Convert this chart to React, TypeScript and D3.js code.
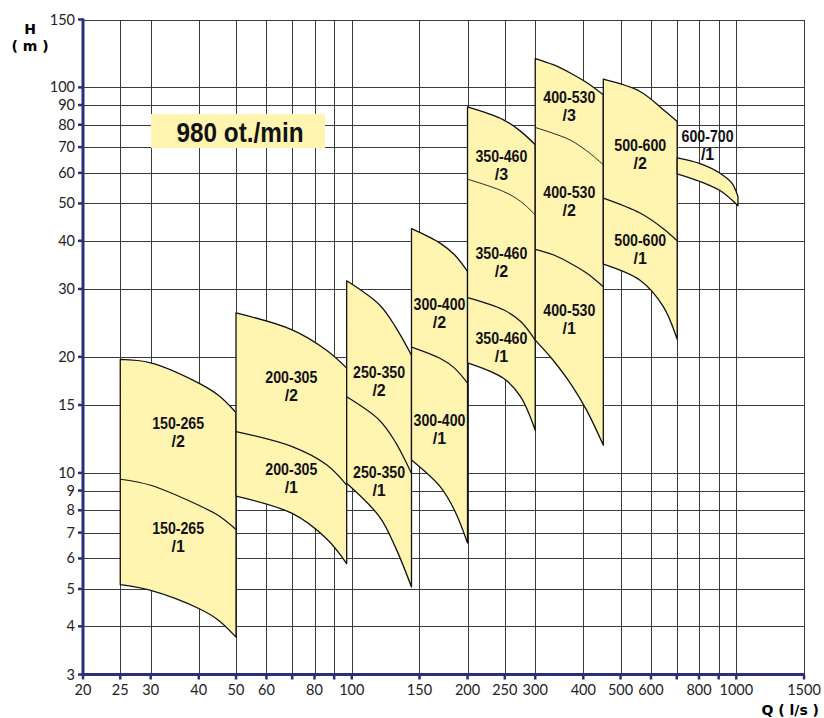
import { useEffect, useRef } from "react";
import * as d3 from "d3";

// axis ticks
const Q_GRID = [25, 30, 40, 50, 60, 70, 80, 90, 100, 150, 200, 250, 300, 400, 500, 600, 700, 800, 900, 1000, 1500];
const Q_LABELS = [20, 25, 30, 40, 50, 60, 80, 100, 150, 200, 250, 300, 400, 500, 600, 800, 1000, 1500];
const H_GRID = [4, 5, 6, 7, 8, 9, 10, 15, 20, 30, 40, 50, 60, 70, 80, 90, 100, 150];
const H_LABELS = [3, 4, 5, 6, 7, 8, 9, 10, 15, 20, 30, 40, 50, 60, 70, 80, 90, 100, 150];

// pump families: flow samples (l/s) and head curves (m), bottom curve first
const Q_150 = [25, 30, 40, 45, 50];
const H_150 = [
  [5.13, 4.96, 4.45, 4.15, 3.75],
  [9.63, 9.29, 8.24, 7.75, 7.13],
  [19.7, 19.3, 17.1, 15.9, 14.35],
];
const Q_200 = [50, 70, 86, 97];
const H_200 = [
  [8.7, 7.85, 6.75, 5.82],
  [12.8, 11.7, 10.5, 9.3],
  [26.0, 23.5, 20.8, 18.7],
];
const Q_250 = [97, 118, 130, 143];
const H_250 = [
  [9.4, 7.7, 6.4, 5.06],
  [15.75, 13.7, 12.0, 9.96],
  [31.5, 27.3, 23.9, 20.2],
];
const Q_300 = [143, 170, 185, 200];
const H_300 = [
  [10.8, 9.2, 8.0, 6.58],
  [21.2, 19.8, 18.7, 17.1],
  [43, 39.4, 36.8, 33.3],
];
const Q_350 = [200, 248, 275, 300];
const H_350 = [
  [19.3, 17.6, 15.75, 12.9],
  [28.5, 26.5, 24.7, 22.1],
  [57.8, 53.7, 50.6, 46.7],
  [89, 82.4, 76.9, 71],
];
const Q_400 = [300, 334, 370, 408, 451];
const H_400 = [
  [22.1, 19.6, 17.1, 14.55, 11.8],
  [38, 36.8, 35, 33, 30.4],
  [78.7, 76, 73, 68.5, 63],
  [118.8, 114.5, 109, 103, 95.7],
];
const Q_500 = [451, 562, 646, 702];
const H_500 = [
  [34.8, 31.6, 27, 22.2],
  [51.6, 47.2, 43, 40],
  [105, 97.6, 87.5, 81.6],
];
const Q_600 = [702, 805, 907, 973, 1010];
const H_600 = [
  [59.7, 57.0, 54.0, 51.1, 49.3],
  [65.6, 63.4, 59.9, 56.5, 52.1],
];

const FAMILIES = [
  { name: "150-265", q: Q_150, h: H_150, above: false },
  { name: "200-305", q: Q_200, h: H_200, above: false },
  { name: "250-350", q: Q_250, h: H_250, above: false },
  { name: "300-400", q: Q_300, h: H_300, above: false },
  { name: "350-460", q: Q_350, h: H_350, above: false },
  { name: "400-530", q: Q_400, h: H_400, above: false },
  { name: "500-600", q: Q_500, h: H_500, above: false },
  { name: "600-700", q: Q_600, h: H_600, above: true },
];

const SPEED = "980 ot./min";

// small vertical nudges (px) of the stage labels, bottom stage first
const LABEL_NUDGE: Record<string, number[]> = {
  "150-265": [-12, -4],
  "200-305": [-2, -2],
  "250-350": [13, 19],
  "300-400": [7, 12],
  "350-460": [4, 12, 10],
  "400-530": [-3, 0, 0],
  "500-600": [2, 2],
  "600-700": [0],
};

const FILL = "#fff5b1";
const NAVY = "#2e2c7e";
const GRID = "#3a3a3a";

// head at flow q, linear in log-log between samples
function headAt(qs: number[], hs: number[], q: number) {
  let i = 0;
  while (i < qs.length - 2 && q > qs[i + 1]) i++;
  const t = (Math.log(q) - Math.log(qs[i])) / (Math.log(qs[i + 1]) - Math.log(qs[i]));
  return Math.exp(Math.log(hs[i]) + t * (Math.log(hs[i + 1]) - Math.log(hs[i])));
}

function App() {
  const ref = useRef<SVGSVGElement>(null);

  useEffect(() => {
    document.body.style.margin = "0";
    const left = 83;
    const right = 804;
    const top = 19.5;
    const bottom = 674.5;

    const svg = d3.select(ref.current);
    svg.selectAll("*").remove();

    const x = d3.scaleLog().domain([20, 1500]).range([left, right]);
    const y = d3.scaleLog().domain([3, 150]).range([bottom, top]);

    // grid
    const grid = svg.append("g").attr("stroke", GRID).attr("stroke-width", 1).attr("shape-rendering", "crispEdges");
    grid
      .selectAll("line.v")
      .data(Q_GRID)
      .join("line")
      .attr("x1", (d) => Math.round(x(d)) + 0.5)
      .attr("x2", (d) => Math.round(x(d)) + 0.5)
      .attr("y1", top)
      .attr("y2", bottom);
    grid
      .selectAll("line.h")
      .data(H_GRID)
      .join("line")
      .attr("class", "h")
      .attr("x1", left)
      .attr("x2", right)
      .attr("y1", (d) => Math.round(y(d)) + 0.5)
      .attr("y2", (d) => Math.round(y(d)) + 0.5);

    // pump families
    const fams = svg.append("g");
    const curve = d3.curveCatmullRom.alpha(0.5);
    const labelFont = "'Liberation Sans Narrow', 'Arial Narrow', 'Liberation Sans', Arial, sans-serif";
    FAMILIES.forEach((f) => {
      const n = f.h.length;
      const idx = d3.range(f.q.length);
      const area = d3
        .area<number>()
        .x((i) => x(f.q[i]))
        .y0((i) => y(f.h[0][i]))
        .y1((i) => y(f.h[n - 1][i]))
        .curve(curve);
      fams
        .append("path")
        .attr("d", area(idx) + "Z")
        .attr("fill", FILL)
        .attr("stroke", "#111")
        .attr("stroke-width", 1.3)
        .attr("stroke-linejoin", "round");

      for (let k = 1; k < n - 1; k++) {
        const line = d3
          .line<number>()
          .x((i) => x(f.q[i]))
          .y((i) => y(f.h[k][i]))
          .curve(curve);
        fams
          .append("path")
          .attr("d", line(idx))
          .attr("fill", "none")
          .attr("stroke", "#111")
          .attr("stroke-width", n > 3 && k === n - 2 ? 0.9 : 1.2);
      }

      const qc = Math.sqrt(f.q[0] * f.q[f.q.length - 1]);
      const cx = x(qc);
      const nudge = LABEL_NUDGE[f.name] || [];
      for (let k = 0; k < n - 1; k++) {
        let yc;
        if (f.above) {
          if (k > 0) continue;
          yc = y(headAt(f.q, f.h[n - 1], qc)) - 22;
        } else {
          yc = (y(headAt(f.q, f.h[k], qc)) + y(headAt(f.q, f.h[k + 1], qc))) / 2;
        }
        yc += nudge[k] || 0;
        const t = fams
          .append("text")
          .attr("x", cx)
          .attr("text-anchor", "middle")
          .attr("font-family", labelFont)
          .attr("font-weight", "bold")
          .attr("font-size", 16)
          .attr("fill", "#111");
        t.append("tspan")
          .attr("x", cx)
          .attr("y", yc - 3)
          .attr("textLength", 52)
          .attr("lengthAdjust", "spacingAndGlyphs")
          .text(f.name);
        t.append("tspan")
          .attr("x", cx)
          .attr("y", yc + 15)
          .text("/" + (k + 1));
      }
    });

    // speed box
    svg
      .append("rect")
      .attr("x", 151)
      .attr("y", 114)
      .attr("width", 174)
      .attr("height", 34)
      .attr("fill", FILL);
    svg
      .append("text")
      .attr("x", 240)
      .attr("y", 142)
      .attr("text-anchor", "middle")
      .attr("font-family", labelFont)
      .attr("font-weight", "bold")
      .attr("font-size", 27)
      .attr("textLength", 127)
      .attr("lengthAdjust", "spacingAndGlyphs")
      .attr("fill", "#111")
      .text(SPEED);

    // axes
    const axes = svg.append("g").attr("stroke", NAVY);
    axes
      .selectAll("line.tx")
      .data([20, ...Q_GRID])
      .join("line")
      .attr("x1", (d) => x(d))
      .attr("x2", (d) => x(d))
      .attr("y1", bottom)
      .attr("y2", bottom + 5)
      .attr("stroke-width", 2.5);
    axes
      .selectAll("line.ty")
      .data(H_LABELS)
      .join("line")
      .attr("class", "ty")
      .attr("x1", left - 5)
      .attr("x2", left)
      .attr("y1", (d) => y(d))
      .attr("y2", (d) => y(d))
      .attr("stroke-width", 2.5);
    axes
      .append("line")
      .attr("x1", left)
      .attr("x2", left)
      .attr("y1", top - 1)
      .attr("y2", bottom + 1.5)
      .attr("stroke-width", 3);
    axes
      .append("line")
      .attr("x1", left - 1.5)
      .attr("x2", right + 1)
      .attr("y1", bottom)
      .attr("y2", bottom)
      .attr("stroke-width", 3);

    const tickFont = "Lato, 'DejaVu Sans', sans-serif";
    svg
      .append("g")
      .selectAll("text")
      .data(Q_LABELS)
      .join("text")
      .attr("x", (d) => x(d))
      .attr("y", 695)
      .attr("text-anchor", "middle")
      .attr("font-family", tickFont)
      .attr("font-size", 14.5)
      .attr("fill", "#222")
      .text((d) => d);
    svg
      .append("g")
      .selectAll("text")
      .data(H_LABELS)
      .join("text")
      .attr("x", 75)
      .attr("y", (d) => y(d) + 5)
      .attr("text-anchor", "end")
      .attr("font-family", tickFont)
      .attr("font-size", 14.5)
      .attr("fill", "#222")
      .text((d) => d);

    // axis titles
    const titleFont = "'DejaVu Sans', 'Liberation Sans', sans-serif";
    svg
      .append("text")
      .attr("x", 30)
      .attr("y", 33.5)
      .attr("text-anchor", "middle")
      .attr("font-family", titleFont)
      .attr("font-weight", "bold")
      .attr("font-size", 14)
      .text("H");
    svg
      .append("text")
      .attr("x", 30)
      .attr("y", 51)
      .attr("text-anchor", "middle")
      .attr("font-family", titleFont)
      .attr("font-weight", "bold")
      .attr("font-size", 14)
      .text("( m )");
    svg
      .append("text")
      .attr("x", 819)
      .attr("y", 715)
      .attr("text-anchor", "end")
      .attr("font-family", titleFont)
      .attr("font-weight", "bold")
      .attr("font-size", 14)
      .text("Q ( l/s )");
  }, []);

  return <svg ref={ref} width={824} height={718} style={{ display: "block", background: "#fff" }} />;
}

export default App;
